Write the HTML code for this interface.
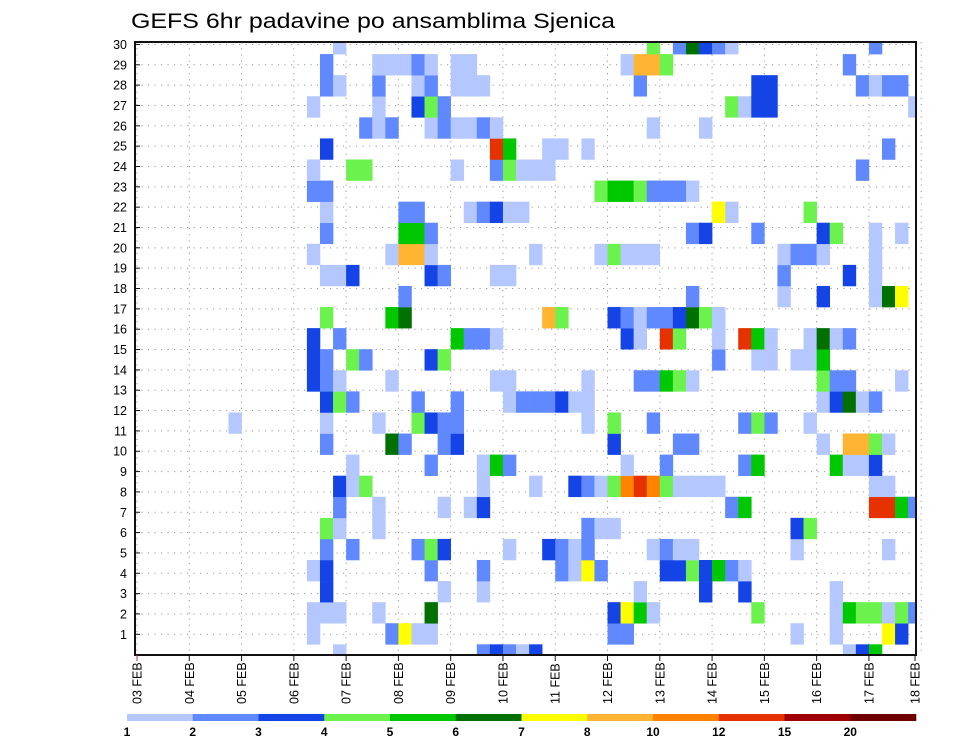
<!DOCTYPE html>
<html><head><meta charset="utf-8"><style>
html,body{margin:0;padding:0;background:#fff;}
svg{display:block;font-family:"Liberation Sans",sans-serif;}
</style></head><body>
<svg id="chart" width="960" height="742" viewBox="0 0 960 742" xmlns="http://www.w3.org/2000/svg">
<text x="131" y="28" font-size="21" textLength="484" lengthAdjust="spacingAndGlyphs" fill="#000">GEFS 6hr padavine po ansamblima Sjenica</text>
<g id="grid"></g>
<g id="cells"></g>
<g id="axes"></g>
<g id="legend"></g>
</svg>
<script>
// ---- data ----
const dayLabels = ["03 FEB","04 FEB","05 FEB","06 FEB","07 FEB","08 FEB","09 FEB","10 FEB","11 FEB","12 FEB","13 FEB","14 FEB","15 FEB","16 FEB","17 FEB","18 FEB"];
const memberLabels = [1,2,3,4,5,6,7,8,9,10,11,12,13,14,15,16,17,18,19,20,21,22,23,24,25,26,27,28,29,30];
const legendLabels = ["1","2","3","4","5","6","7","8","10","12","15","20"];
const levelColors = ["#b4c8ff","#6088ff","#1444e6","#6cf24c","#00c800","#007000","#ffff00","#ffb432","#ff8200","#e63200","#a00000","#6e0000"];
// row index (bottom=0) -> "timestep:level" (level 1..9, a=10)
const rows = [
"15:1 26:2 27:3 28:2 29:1 30:3 54:1 55:3 56:5",
"13:1 19:2 20:7 21:1 22:1 36:2 37:2 50:1 53:1 57:7 58:3",
"13:1 14:1 15:1 18:1 22:6 36:3 37:7 38:5 39:1 47:4 53:1 54:5 55:4 56:4 57:1 58:4 59:2",
"14:3 23:1 26:1 38:1 43:3 46:3 53:1",
"13:1 14:3 22:2 26:2 32:2 33:1 34:7 35:2 40:3 41:3 42:4 43:3 44:5 45:2 46:1",
"14:2 16:2 21:2 22:4 23:3 28:1 31:3 32:2 33:1 34:2 39:1 40:2 41:1 42:1 50:1 57:1",
"14:4 15:1 18:1 34:2 35:1 36:1 50:3 51:4",
"15:2 18:1 23:1 25:1 26:3 45:2 46:5 56:a 57:a 58:5 59:2",
"15:3 16:1 17:4 26:1 30:1 33:3 34:2 35:1 36:4 37:9 38:a 39:9 40:4 41:1 42:1 43:1 44:1 56:1 57:1",
"16:1 22:2 26:1 27:5 28:2 37:1 40:2 46:2 47:5 53:5 54:1 55:1 56:3",
"14:2 19:6 20:2 23:2 24:3 36:3 41:2 42:2 52:1 54:8 55:8 56:4 57:1",
"7:1 14:1 18:1 21:4 22:3 23:2 24:2 34:1 36:4 39:2 46:2 47:4 48:2 51:1",
"14:3 15:4 16:2 21:2 24:2 28:1 29:2 30:2 31:2 32:3 33:1 34:1 52:1 53:3 54:6 55:1 56:2",
"13:3 14:2 15:1 19:1 27:1 28:1 34:1 38:2 39:2 40:5 41:4 42:1 52:4 53:2 54:2 58:1",
"13:3 14:2 16:4 17:2 22:3 23:4 44:2 47:1 48:1 50:1 51:1 52:5",
"13:3 15:2 24:5 25:2 26:2 27:1 37:3 38:1 40:a 41:4 44:1 46:a 47:5 48:1 51:1 52:6 53:1 54:2",
"14:4 19:5 20:6 31:8 32:4 36:3 37:2 38:1 39:2 40:2 41:3 42:6 43:4 44:1",
"20:2 42:2 49:1 52:3 56:1 57:6 58:7",
"14:1 15:1 16:3 22:3 23:2 27:1 28:1 49:2 54:3 56:1",
"13:1 19:1 20:8 21:8 22:1 30:1 35:1 36:4 37:1 38:1 39:1 49:1 50:2 51:2 52:1 56:1",
"14:2 20:5 21:5 22:2 42:2 43:3 47:2 52:3 53:4 56:1 58:1",
"14:1 20:2 21:2 25:1 26:2 27:3 28:1 29:1 44:7 45:1 51:4",
"13:2 14:2 35:4 36:5 37:5 38:4 39:2 40:2 41:2 42:1",
"13:1 16:4 17:4 24:1 27:2 28:4 29:1 30:1 31:1 55:2",
"14:3 27:a 28:5 31:1 32:1 34:1 57:2",
"17:2 18:1 19:2 22:1 23:2 24:1 25:1 26:2 27:1 39:1 43:1",
"13:1 18:1 21:3 22:4 23:2 45:4 46:1 47:3 48:3 59:1",
"14:2 15:1 18:2 21:1 22:2 24:1 25:1 26:1 38:2 47:3 48:3 55:2 56:1 57:2 58:2",
"14:2 18:1 19:1 20:1 21:2 22:1 24:1 25:1 37:1 38:8 39:8 40:4 54:2",
"15:1 39:4 41:2 42:6 43:3 44:2 45:1 56:2"
];
// ---- scales ----
const NS="http://www.w3.org/2000/svg";
const PL=135, PR=916, PT=42, PB=655;
const X0=137, STEP=13.07;
const xStep = t => X0 + t*STEP;
const xDay = d => X0 + d*STEP*4;
const CELLH=21.08, CB=665.4;
const yRowTop = j => CB - CELLH*(j+1);
const yLabel = r => 634.3 - (r-1)*20.34;
function mk(tag, attrs, parent){const e=document.createElementNS(NS,tag);for(const k in attrs)e.setAttribute(k,attrs[k]);parent.appendChild(e);return e;}
const grid=document.getElementById('grid'), cells=document.getElementById('cells'), axes=document.getElementById('axes'), legend=document.getElementById('legend');
// clip
const defs=mk('defs',{},document.getElementById('chart'));
const cp=mk('clipPath',{id:'pc'},defs); mk('rect',{x:PL,y:PT,width:PR-PL,height:PB-PT},cp);
cells.setAttribute('clip-path','url(#pc)');
// grid
memberLabels.forEach(r=>{
  const l=mk('line',{x1:PL,x2:PR,y1:yLabel(r),y2:yLabel(r),stroke:'#999','stroke-width':1,'stroke-dasharray':'1.2,5.3'},grid);
  
  
});
dayLabels.forEach((d,i)=>{
  const l=mk('line',{x1:xDay(i),x2:xDay(i),y1:PT,y2:PB,stroke:'#999','stroke-width':1,'stroke-dasharray':'1.2,5'},grid);
  
  
});
// cells
rows.forEach((s,j)=>{
  s.split(' ').forEach(p=>{
    const [t,v]=p.split(':'); const lv=parseInt(v,16);
    const r=mk('rect',{x:xStep(+t),y:yRowTop(j),width:STEP+0.3,height:CELLH+0.3,fill:levelColors[lv-1]},cells);
    
    
  });
});
// frame
const fr=mk('rect',{x:PL,y:PT,width:PR-PL,height:PB-PT,fill:'none',stroke:'#111','stroke-width':2},axes);


memberLabels.forEach(r=>{
  mk('line',{x1:PL,x2:PL+5,y1:yLabel(r),y2:yLabel(r),stroke:'#111','stroke-width':1},axes);
  const t=mk('text',{x:127,y:yLabel(r)+4.5,'text-anchor':'end','font-size':12.5,fill:'#000'},axes);
  t.textContent=r;
  
  
});
dayLabels.forEach((d,i)=>{
  const x=Math.min(xDay(i),915);
  mk('line',{x1:x,x2:x,y1:PB,y2:PB+6,stroke:i==0?'#c33':'#111','stroke-width':1},axes);
  const t=mk('text',{x:0,y:0,'font-size':12.5,fill:'#000',transform:`translate(${x+4.5},${PB+49}) rotate(-90)`},axes);
  t.textContent=d;
  
  
});
// legend
const LX0=127, LX1=916, LW=(LX1-LX0)/levelColors.length;
levelColors.forEach((c,i)=>{
  const r=mk('rect',{x:LX0+i*LW,y:714,width:LW+0.3,height:7,fill:c},legend);
  
  
});
legendLabels.forEach((s,i)=>{
  const t=mk('text',{x:LX0+i*LW,y:736,'text-anchor':'middle','font-size':12,'font-weight':'bold',fill:'#000'},legend);
  t.textContent=s;
  
  
});
</script>
</body></html>
